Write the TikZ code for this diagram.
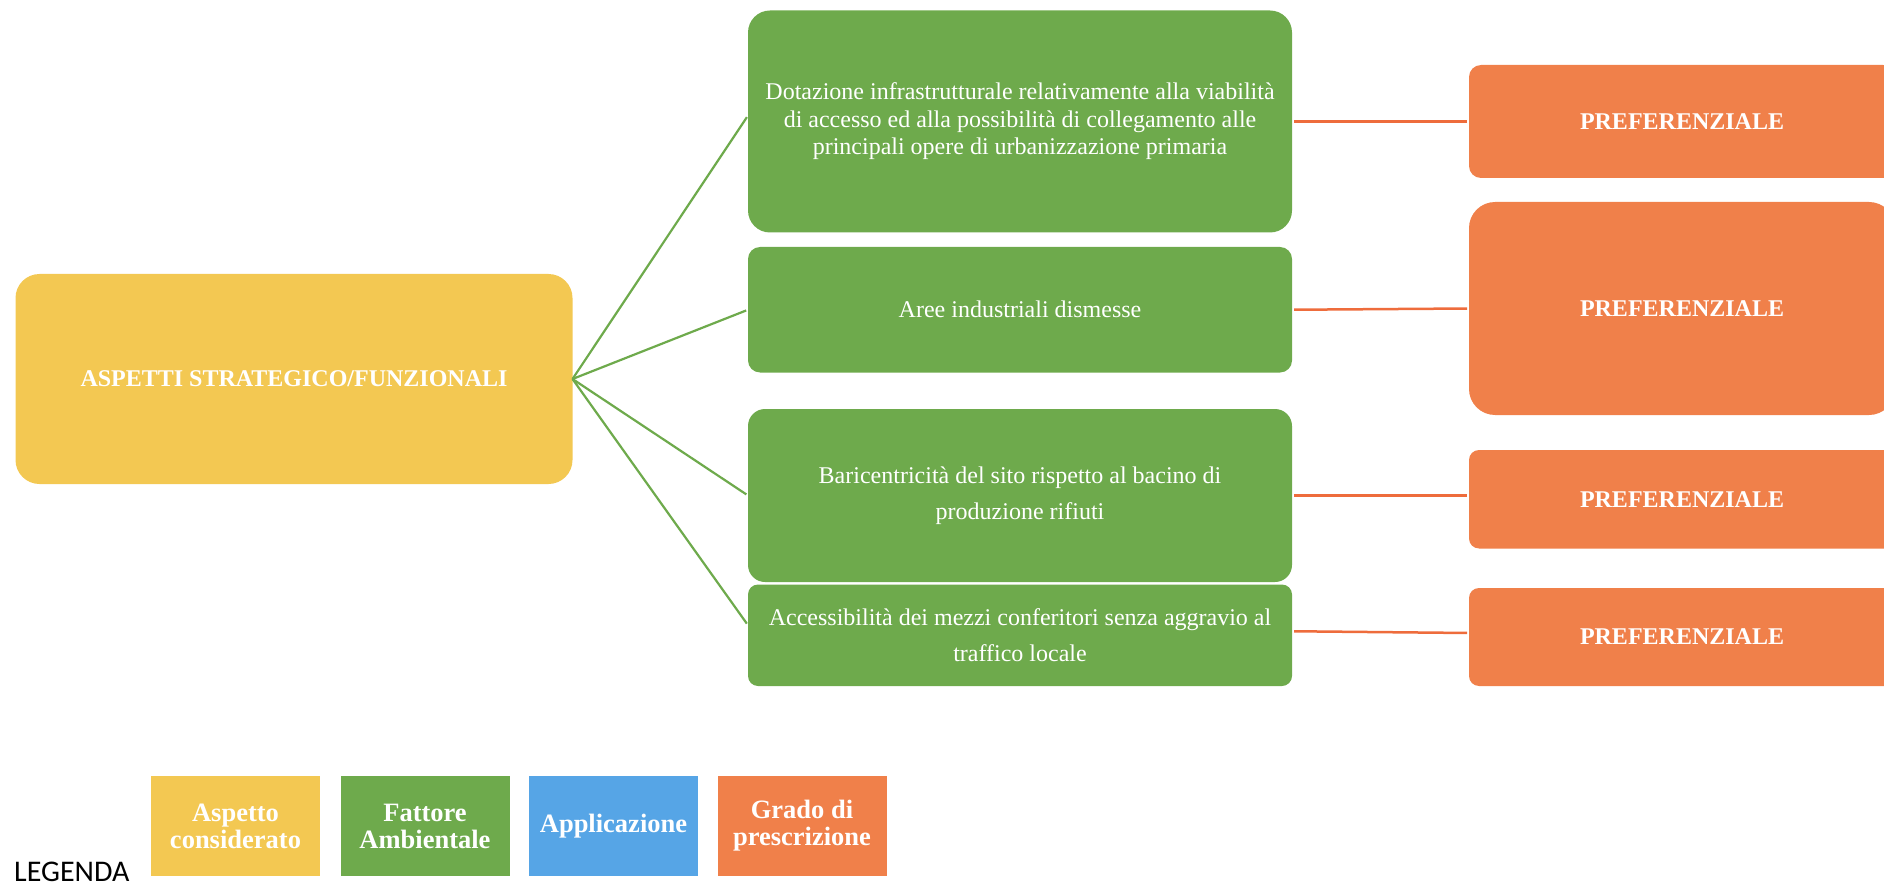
\documentclass[tikz,border=0pt]{standalone}
\usepackage{fontspec}
\setmainfont{Liberation Serif}
\newfontfamily\legendafont{Carlito}
\definecolor{cyel}{HTML}{F3C852}
\definecolor{cgrn}{HTML}{6EAA4C}
\definecolor{corg}{HTML}{F0804A}
\definecolor{cblu}{HTML}{56A5E6}
\definecolor{cline}{HTML}{EE6C3C}
\begin{document}
\begin{tikzpicture}[x=1pt,y=-1pt,
  basebox/.style={rectangle, inner sep=0pt, outer sep=0pt, text=white, align=center},
  normtext/.style={font=\fontsize{24}{27.5}\selectfont},
  widetext/.style={font=\fontsize{24}{36.5}\selectfont},
  boldtext/.style={font=\fontsize{24}{27.5}\selectfont\bfseries},
  ybox/.style={basebox, fill=cyel, boldtext},
  gbox/.style={basebox, fill=cgrn, minimum width=544pt},
  obox/.style={basebox, fill=corg, boldtext, minimum width=426pt},
  legbox/.style={basebox, minimum width=169pt, minimum height=100pt, font=\fontsize{26.5}{27}\selectfont\bfseries},
  gline/.style={draw=cgrn, line width=2.2pt, shorten >=2pt},
  oline/.style={draw=cline, line width=2.5pt, shorten >=2pt, shorten <=2pt}
]
\useasboundingbox (0,0) rectangle (1884,885);

% main aspect
\node[ybox, minimum width=557pt, minimum height=210pt, rounded corners=24pt] (Y) at (294,379) {ASPETTI STRATEGICO/FUNZIONALI};

% environmental factors
\node[gbox, normtext, minimum height=222pt, rounded corners=22pt] (G1) at (1020,121.5)
  {Dotazione infrastrutturale relativamente alla viabilità\\di accesso ed alla possibilità di collegamento alle\\principali opere di urbanizzazione primaria};
\node[gbox, normtext, minimum height=125.5pt, rounded corners=12pt] (G2) at (1020,309.75) {Aree industriali dismesse};
\node[gbox, widetext, minimum height=173pt, rounded corners=17pt] (G3) at (1020,495.5)
  {Baricentricità del sito rispetto al bacino di\\produzione rifiuti};
\node[gbox, widetext, minimum height=101.5pt, rounded corners=10pt] (G4) at (1020,635.25)
  {Accessibilità dei mezzi conferitori senza aggravio al\\traffico locale};

% prescription grades
\node[obox, minimum height=113pt, rounded corners=12pt] (O1) at (1682,121.5) {PREFERENZIALE};
\node[obox, minimum height=213pt, rounded corners=26pt] (O2) at (1682,308.5) {PREFERENZIALE};
\node[obox, minimum height=98.5pt, rounded corners=10pt] (O3) at (1682,499.25) {PREFERENZIALE};
\node[obox, minimum height=98pt, rounded corners=10pt] (O4) at (1682,637) {PREFERENZIALE};

% connectors
\draw[gline] (Y.east) -- ([yshift=6pt]G1.west);
\draw[gline] (Y.east) -- (G2.west);
\draw[gline] (Y.east) -- (G3.west);
\draw[gline] (Y.east) -- ([yshift=10pt]G4.west);

\draw[oline] (G1.east) -- (O1.west);
\draw[oline] (G2.east) -- (O2.west);
\draw[oline] (G3.east) -- (G3.east -| O3.west);
\draw[oline] ([yshift=4pt]G4.east) -- ([yshift=4pt]O4.west);

% legend
\node[anchor=base west, inner sep=0pt, font=\fontsize{30}{31}\legendafont] (LEG) at (14,881) {LEGENDA};
\node[legbox, fill=cyel] (L1) at (235.5,826) {Aspetto\\considerato};
\node[legbox, fill=cgrn] (L2) at (425,826) {Fattore\\Ambientale};
\node[legbox, fill=cblu] (L3) at (613.5,826) {Applicazione};
\node[legbox, fill=corg] (L4) at (802,826) {Grado di\\prescrizione};
\end{tikzpicture}
\end{document}
